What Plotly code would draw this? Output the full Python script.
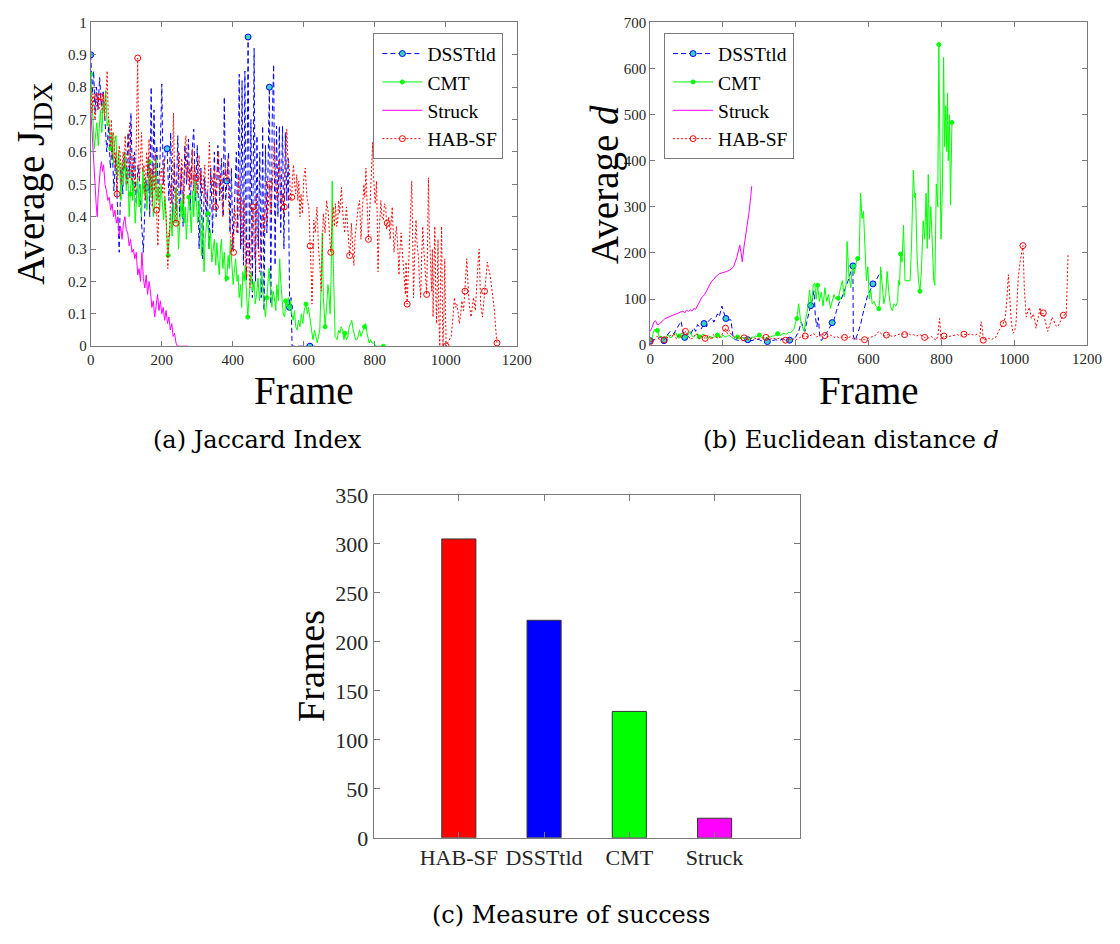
import plotly.graph_objects as go

W, H = 1120, 944
SERIF = "Liberation Serif"
CAP = "DejaVu Serif"
AX = "#7a7a7a"
TXT = "#262626"

# ---------------- (a) Jaccard index : (frame, value) ----------------
DSST_A = [(0,0.90),(4,0.78),(8,0.85),(12,0.72),(16,0.80),(20,0.73),(25,0.83),(30,0.74),(35,0.79),(40,0.70),
          (45,0.60),(50,0.68),(55,0.55),(60,0.62),(65,0.48),(70,0.58),(75,0.45),(80,0.29),(85,0.55),(90,0.47),
          (95,0.60),(100,0.50),(105,0.66),(110,0.52),(113,0.72),(118,0.48),(123,0.60),(128,0.44),(133,0.56),
          (138,0.50),(143,0.38),(148,0.29),(153,0.45),(157,0.49),(162,0.58),(166,0.40),(170,0.80),(174,0.45),
          (178,0.73),(182,0.52),(186,0.62),(190,0.46),(195,0.58),(200,0.81),(204,0.50),(210,0.61),(215,0.61),
          (220,0.45),(225,0.66),(230,0.38),(235,0.57),(240,0.42),(245,0.65),(250,0.40),(255,0.55),(260,0.37),
          (265,0.62),(270,0.50),(275,0.64),(280,0.42),(285,0.60),(290,0.67),(295,0.45),(300,0.62),(305,0.30),
          (310,0.55),(315,0.27),(320,0.52),(325,0.40),(328,0.48),(333,0.30),(338,0.55),(343,0.35),(348,0.60),
          (353,0.40),(358,0.62),(363,0.45),(368,0.58),(373,0.40),(376,0.77),(380,0.45),(383,0.51),(388,0.60),
          (392,0.35),(396,0.55),(400,0.30),(405,0.45),(410,0.60),(414,0.35),(418,0.84),(422,0.30),(426,0.82),
          (430,0.25),(434,0.85),(438,0.20),(443,0.955),(447,0.25),(451,0.70),(455,0.15),(460,0.92),(464,0.20),
          (468,0.65),(472,0.30),(476,0.60),(480,0.15),(484,0.68),(488,0.11),(492,0.62),(496,0.35),(503,0.80),
          (507,0.13),(511,0.70),(515,0.87),(519,0.25),(523,0.68),(527,0.40),(531,0.68),(535,0.35),(540,0.68),
          (544,0.30),(548,0.66),(552,0.45),(556,0.58),(560,0.12),(564,0.15),(567,0.00),(600,0.00),(617,0.00),
          (632,0.00)]
DSST_A_MARKS = [0, 157, 215, 383, 443, 503, 560, 617]

CMT_A = [(0,0.84),(5,0.70),(10,0.61),(14,0.66),(17,0.69),(21,0.62),(24,0.70),(27,0.73),(31,0.66),(35,0.75),
         (38,0.72),(42,0.79),(46,0.68),(51,0.70),(56,0.61),(60,0.66),(64,0.56),(67,0.63),(71,0.65),(75,0.52),
         (78,0.60),(81,0.56),(85,0.45),(88,0.57),(92,0.50),(96,0.60),(100,0.48),(104,0.55),(108,0.40),(111,0.47),
         (115,0.55),(118,0.45),(121,0.51),(125,0.38),(129,0.47),(132,0.52),(136,0.43),(140,0.50),(143,0.40),
         (147,0.55),(150,0.47),(154,0.52),(158,0.42),(162,0.50),(165,0.57),(169,0.46),(173,0.53),(176,0.40),
         (180,0.43),(184,0.58),(187,0.45),(190,0.49),(194,0.42),(198,0.50),(201,0.44),(205,0.39),(209,0.46),
         (212,0.36),(215,0.33),(218,0.28),(222,0.38),(225,0.41),(229,0.34),(233,0.44),(236,0.38),(240,0.49),
         (244,0.42),(247,0.30),(250,0.37),(254,0.45),(257,0.40),(259,0.47),(263,0.38),(266,0.43),(269,0.33),
         (273,0.40),(276,0.46),(279,0.43),(283,0.35),(287,0.48),(290,0.40),(294,0.51),(297,0.44),(301,0.38),
         (305,0.45),(309,0.35),(312,0.28),(315,0.40),(319,0.23),(322,0.33),(326,0.37),(329,0.41),(333,0.30),
         (337,0.36),(341,0.26),(345,0.31),(348,0.33),(352,0.25),(355,0.32),(358,0.27),(362,0.22),(365,0.30),
         (368,0.33),(372,0.24),(376,0.29),(380,0.20),(383,0.21),(387,0.28),(390,0.24),(393,0.33),(397,0.25),
         (401,0.19),(405,0.24),(408,0.27),(412,0.20),(415,0.22),(418,0.15),(422,0.19),(425,0.12),(428,0.23),
         (432,0.20),(435,0.25),(438,0.18),(442,0.09),(445,0.14),(449,0.20),(452,0.23),(456,0.17),(460,0.20),
         (463,0.13),(467,0.16),(471,0.21),(475,0.14),(478,0.18),(482,0.23),(485,0.16),(489,0.12),(492,0.09),
         (496,0.15),(499,0.19),(502,0.24),(506,0.18),(510,0.12),(513,0.17),(517,0.15),(521,0.11),(524,0.19),
         (528,0.14),(532,0.27),(535,0.20),(539,0.13),(542,0.10),(546,0.09),(549,0.14),(553,0.12),(556,0.15),
         (560,0.11),(563,0.14),(566,0.10),(570,0.08),(574,0.11),(577,0.06),(581,0.05),(585,0.08),(589,0.06),
         (593,0.10),(597,0.07),(601,0.11),(606,0.13),(610,0.10),(613,0.12),(616,0.09),(620,0.06),(623,0.04),
         (626,0.02),(630,0.05),(634,0.03),(638,0.01),(641,0.03),(645,0.05),(649,0.20),(652,0.35),(655,0.15),
         (658,0.08),(660,0.06),(664,0.12),(668,0.19),(671,0.16),(674,0.10),(677,0.22),(680,0.51),(682,0.30),
         (685,0.15),(688,0.03),(694,0.02),(698,0.05),(702,0.04),(705,0.06),(709,0.05),(713,0.02),(716,0.04),
         (720,0.02),(724,0.03),(728,0.06),(732,0.07),(735,0.08),(739,0.05),(743,0.03),(746,0.02),(749,0.02),
         (753,0.03),(757,0.05),(761,0.03),(764,0.04),(768,0.05),(771,0.06),(774,0.07),(778,0.04),(781,0.02),
         (784,0.01),(788,0.02),(792,0.01),(797,0.01),(804,0.0),(812,0.0),(824,0.0)]
CMT_A_MARKS = [0, 55, 110, 165, 220, 275, 330, 385, 442, 495, 549, 606, 660, 716, 771, 824]

STRUCK_A = [(0,0.73),(3,0.68),(6,0.62),(9,0.56),(12,0.50),(15,0.44),(18,0.40),(21,0.47),(24,0.52),(27,0.55),
            (30,0.57),(33,0.54),(36,0.56),(40,0.50),(44,0.48),(48,0.45),(52,0.46),(56,0.42),(60,0.44),(64,0.40),
            (68,0.42),(72,0.38),(76,0.40),(80,0.34),(84,0.37),(88,0.33),(92,0.38),(96,0.40),(100,0.36),(104,0.35),
            (108,0.31),(112,0.33),(116,0.29),(120,0.30),(124,0.27),(128,0.29),(132,0.22),(136,0.24),(140,0.20),
            (144,0.29),(148,0.21),(152,0.18),(156,0.22),(160,0.16),(164,0.20),(168,0.17),(172,0.12),(176,0.14),
            (180,0.09),(184,0.13),(188,0.16),(192,0.11),(196,0.14),(200,0.10),(204,0.12),(208,0.08),(212,0.11),
            (216,0.07),(220,0.09),(224,0.05),(228,0.07),(232,0.03),(236,0.04),(240,0.01),(244,0.0),(260,0.0),
            (275,0.0)]

HAB_A = [(0,0.80),(3,0.72),(6,0.78),(9,0.75),(12,0.70),(15,0.74),(19,0.77),(23,0.73),(28,0.77),(32,0.72),
         (36,0.78),(39,0.70),(42,0.76),(46,0.85),(49,0.72),(51,0.68),(55,0.62),(58,0.70),(60,0.58),(63,0.66),
         (65,0.65),(68,0.55),(71,0.60),(74,0.47),(77,0.55),(80,0.62),(83,0.59),(86,0.50),(88,0.52),(91,0.60),
         (94,0.55),(97,0.65),(100,0.58),(103,0.50),(106,0.53),(109,0.69),(112,0.58),(116,0.51),(120,0.59),
         (124,0.48),(128,0.62),(132,0.89),(135,0.60),(137,0.51),(140,0.58),(143,0.66),(146,0.54),(150,0.56),
         (153,0.45),(157,0.60),(161,0.52),(164,0.64),(166,0.49),(170,0.55),(173,0.43),(176,0.56),(179,0.48),
         (182,0.60),(185,0.42),(187,0.36),(189,0.31),(192,0.45),(195,0.52),(199,0.55),(203,0.47),(206,0.58),
         (209,0.44),(212,0.41),(215,0.30),(217,0.24),(220,0.35),(222,0.34),(225,0.50),(228,0.44),(230,0.58),
         (233,0.72),(236,0.50),(240,0.38),(243,0.45),(246,0.52),(249,0.60),(253,0.48),(256,0.58),(259,0.54),
         (262,0.44),(265,0.62),(268,0.65),(271,0.52),(274,0.57),(277,0.48),(280,0.55),(283,0.50),(286,0.61),
         (289,0.48),(292,0.56),(296,0.52),(300,0.47),(303,0.55),(305,0.59),(308,0.50),(311,0.54),(314,0.47),
         (318,0.52),(321,0.56),(324,0.45),(328,0.44),(331,0.52),(334,0.63),(338,0.50),(342,0.52),(345,0.46),
         (348,0.55),(351,0.43),(354,0.50),(357,0.58),(360,0.60),(363,0.48),(366,0.53),(369,0.47),(372,0.40),
         (375,0.52),(379,0.55),(383,0.51),(386,0.58),(388,0.45),(390,0.41),(393,0.36),(397,0.29),(400,0.35),
         (402,0.29),(405,0.43),(408,0.38),(411,0.35),(414,0.47),(417,0.53),(420,0.40),(423,0.46),(425,0.31),
         (428,0.38),(432,0.45),(435,0.28),(437,0.25),(439,0.21),(441,0.30),(443,0.33),(446,0.24),(448,0.18),
         (451,0.30),(454,0.38),(457,0.43),(460,0.32),(462,0.27),(464,0.40),(466,0.47),(469,0.35),(472,0.28),
         (475,0.23),(478,0.33),(481,0.38),(485,0.41),(488,0.35),(491,0.43),(494,0.47),(497,0.38),(500,0.45),
         (503,0.50),(506,0.44),(508,0.41),(511,0.50),(514,0.55),(517,0.63),(520,0.52),(523,0.48),(525,0.45),
         (528,0.52),(531,0.58),(534,0.50),(537,0.44),(540,0.47),(543,0.40),(545,0.43),(548,0.55),(552,0.67),
         (555,0.58),(559,0.55),(563,0.45),(566,0.46),(568,0.52),(571,0.56),(574,0.50),(577,0.47),(580,0.53),
         (583,0.45),(586,0.51),(589,0.40),(592,0.47),(596,0.41),(600,0.52),(604,0.55),(607,0.49),(610,0.45),
         (614,0.43),(616,0.39),(618,0.31),(621,0.22),(623,0.13),(626,0.25),(628,0.39),(632,0.35),(635,0.43),
         (637,0.43),(639,0.38),(641,0.31),(645,0.25),(649,0.17),(652,0.30),(655,0.41),(658,0.37),(660,0.35),
         (664,0.45),(669,0.41),(672,0.35),(676,0.29),(680,0.38),(683,0.43),(686,0.37),(689,0.44),(692,0.37),
         (695,0.38),(698,0.45),(701,0.41),(704,0.46),(706,0.49),(709,0.42),(712,0.38),(715,0.35),(718,0.40),
         (720,0.43),(724,0.36),(729,0.28),(732,0.32),(734,0.38),(738,0.30),(741,0.25),(744,0.33),(748,0.39),
         (752,0.42),(757,0.45),(759,0.38),(761,0.33),(765,0.42),(769,0.50),(772,0.46),(775,0.55),(778,0.45),
         (782,0.33),(785,0.40),(787,0.45),(790,0.55),(794,0.63),(796,0.53),(798,0.47),(801,0.44),(805,0.51),
         (807,0.35),(809,0.23),(812,0.35),(817,0.45),(820,0.40),(824,0.39),(827,0.44),(831,0.43),(833,0.36),
         (835,0.38),(839,0.40),(843,0.33),(846,0.38),(849,0.43),(852,0.35),(854,0.29),(858,0.34),(861,0.37),
         (865,0.30),(868,0.22),(871,0.30),(874,0.35),(877,0.30),(880,0.25),(883,0.20),(886,0.16),(888,0.26),
         (891,0.13),(894,0.22),(898,0.33),(901,0.42),(904,0.51),(907,0.30),(909,0.15),(912,0.28),(916,0.39),
         (919,0.32),(923,0.27),(926,0.20),(929,0.15),(932,0.28),(935,0.37),(938,0.30),(941,0.25),(944,0.20),
         (946,0.16),(949,0.35),(951,0.52),(953,0.38),(955,0.28),(958,0.22),(960,0.17),(962,0.30),(964,0.09),
         (967,0.25),(969,0.37),(971,0.20),(974,0.07),(976,0.20),(978,0.33),(980,0.10),(983,0.0),(985,0.20),
         (988,0.37),(990,0.15),(992,0.0),(995,0.12),(997,0.27),(999,0.10),(1001,0.0),(1005,0.01),(1009,0.02),
         (1015,0.03),(1020,0.09),(1024,0.15),(1028,0.12),(1031,0.13),(1035,0.10),(1038,0.07),(1042,0.10),
         (1045,0.14),(1050,0.11),(1054,0.17),(1057,0.22),(1059,0.27),(1062,0.20),(1066,0.13),(1071,0.09),
         (1075,0.12),(1078,0.15),(1083,0.11),(1086,0.18),(1089,0.25),(1092,0.28),(1094,0.30),(1096,0.20),
         (1098,0.13),(1103,0.09),(1106,0.13),(1109,0.17),(1113,0.22),(1117,0.26),(1120,0.24),(1123,0.23),
         (1127,0.20),(1131,0.17),(1134,0.14),(1137,0.11),(1140,0.06),(1144,0.01)]
HAB_A_MARKS = [19, 28, 74, 132, 185, 240, 296, 351, 402, 457, 503, 545, 566, 618, 676, 729, 782, 835,
               891, 946, 1001, 1054, 1109, 1144]

# ---------------- (b) Euclidean distance : (frame, value) ----------------
DSST_B = [(0,10),(10,12),(20,14),(30,20),(38,10),(45,20),(55,30),(65,25),(75,40),(85,52),(90,30),(95,17),
          (100,15),(110,22),(120,38),(125,30),(130,45),(140,35),(148,47),(155,40),(160,52),(170,60),(175,50),
          (185,68),(190,62),(197,85),(202,72),(208,58),(215,55),(222,55),(228,15),(235,12),(245,10),(255,10),
          (268,12),(280,10),(290,14),(300,12),(310,8),(322,8),(335,10),(345,12),(355,10),(365,14),(375,11),
          (383,11),(392,14),(400,18),(408,30),(415,50),(420,40),(425,30),(430,50),(435,70),(441,86),(446,100),
          (450,118),(454,60),(458,40),(462,60),(466,20),(470,10),(475,15),(480,20),(487,30),(494,40),(500,49),
          (505,55),(512,75),(518,90),(525,100),(532,115),(540,130),(546,145),(551,160),(557,172),(558,20),
          (563,10),(570,25),(578,45),(585,70),(592,95),(598,110),(605,120),(612,133),(620,140),(628,152),
          (636,160)]
DSST_B_MARKS = [0, 38, 95, 148, 208, 268, 322, 383, 441, 500, 557, 612]

CMT_B = [(0,15),(4,12),(8,25),(12,35),(16,30),(20,32),(25,18),(30,20),(35,14),(40,15),(45,20),(50,22),
         (55,16),(60,18),(65,24),(70,28),(75,18),(80,20),(85,26),(90,25),(95,18),(100,15),(105,24),(110,30),
         (115,20),(120,18),(125,22),(130,25),(135,18),(140,20),(145,24),(150,22),(155,15),(160,17),(165,20),
         (170,15),(175,18),(180,18),(185,22),(190,20),(195,16),(200,22),(205,18),(210,18),(215,22),(220,20),
         (225,16),(230,15),(235,19),(240,18),(245,14),(250,15),(255,17),(260,14),(265,16),(270,16),(275,13),
         (280,18),(285,17),(290,20),(295,18),(300,22),(305,17),(310,18),(315,15),(320,16),(325,19),(330,18),
         (335,20),(340,20),(345,22),(350,25),(355,22),(360,22),(365,26),(370,25),(375,24),(380,28),(385,27),
         (390,30),(395,35),(398,45),(403,58),(408,90),(411,70),(413,55),(418,40),(423,30),(428,60),(433,80),
         (438,120),(443,85),(448,130),(452,135),(456,100),(460,130),(465,95),(470,115),(475,85),(480,125),
         (485,95),(490,110),(495,80),(500,95),(505,110),(510,100),(517,102),(523,125),(528,140),(533,105),
         (538,130),(541,225),(546,150),(551,125),(556,175),(561,155),(566,180),(570,188),(574,185),(578,330),
         (582,275),(586,290),(590,200),(594,140),(598,170),(602,100),(606,120),(610,90),(615,95),(620,85),
         (628,79),(631,100),(633,170),(637,135),(642,90),(647,110),(651,160),(655,120),(660,85),(665,75),
         (670,90),(675,85),(680,95),(682,140),(685,130),(688,198),(692,180),(696,260),(700,140),(705,140),
         (710,140),(714,140),(718,220),(721,300),(723,380),(726,320),(729,330),(733,200),(737,140),(741,117),
         (745,160),(750,270),(754,230),(758,330),(761,210),(764,370),(767,230),(771,300),(775,200),(779,140),
         (782,130),(786,350),(790,300),(793,652),(796,420),(799,230),(803,350),(806,624),(809,430),(812,520),
         (815,420),(817,547),(819,400),(822,500),(825,304),(829,483)]
CMT_B_MARKS = [20, 80, 135, 185, 240, 300, 350, 403, 460, 517, 570, 628, 688, 741, 793, 829]

STRUCK_B = [(0,30),(5,38),(10,50),(15,53),(20,44),(25,46),(30,50),(40,57),(50,61),(60,64),(70,68),(80,71),
            (85,72),(90,74),(95,70),(100,76),(105,73),(110,77),(115,74),(120,80),(125,78),(130,86),(135,92),
            (142,104),(150,110),(155,118),(161,130),(168,138),(175,143),(182,150),(190,155),(200,157),(210,160),
            (219,163),(229,170),(238,190),(243,210),(246,217),(250,200),(253,181),(258,215),(262,235),(267,265),
            (272,290),(276,320),(279,345)]

HAB_B = [(0,8),(10,10),(20,20),(25,12),(30,18),(39,12),(45,15),(55,22),(60,18),(66,26),(72,14),(80,22),
         (88,16),(97,30),(105,20),(112,12),(120,19),(128,25),(135,14),(143,20),(151,15),(160,22),(168,12),
         (174,23),(180,18),(188,15),(195,20),(200,28),(207,37),(212,25),(218,32),(223,23),(230,20),(238,15),
         (245,18),(252,14),(258,16),(264,15),(272,12),(280,16),(291,15),(300,14),(310,16),(318,17),(328,13),
         (338,15),(348,14),(358,16),(366,12),(372,11),(380,14),(390,12),(398,15),(403,12),(410,16),(418,20),
         (426,20),(434,18),(442,22),(450,25),(457,18),(465,22),(472,24),(480,21),(488,18),(496,22),(505,17),
         (512,19),(520,16),(527,18),(534,17),(542,16),(550,18),(556,15),(562,12),(570,14),(578,12),(589,12),
         (598,15),(610,19),(620,22),(628,30),(635,25),(642,20),(649,22),(655,23),(662,20),(669,19),(676,22),
         (682,23),(690,25),(699,23),(709,26),(716,22),(723,23),(732,20),(741,23),(748,20),(754,17),(762,15),
         (772,19),(780,14),(786,11),(790,20),(795,58),(799,12),(807,20),(815,18),(822,19),(833,22),(844,23),
         (853,20),(862,24),(872,22),(880,25),(885,23),(893,22),(898,24),(903,20),(906,19),(909,51),(912,40),
         (915,11),(922,13),(930,15),(937,12),(943,15),(950,18),(957,30),(963,38),(970,47),(975,60),(979,89),
         (984,153),(988,96),(992,50),(997,26),(1001,30),(1005,47),(1008,100),(1011,146),(1016,180),(1020,202),
         (1024,216),(1028,120),(1033,61),(1038,75),(1042,82),(1047,58),(1053,68),(1056,55),(1060,37),(1066,60),
         (1071,82),(1075,65),(1080,70),(1086,50),(1092,30),(1098,45),(1104,61),(1108,55),(1113,44),(1119,40),
         (1125,48),(1132,61),(1135,65),(1140,66),(1143,68),(1148,198)]
HAB_B_MARKS = [0, 39, 97, 151, 207, 258, 318, 372, 426, 480, 534, 589, 649, 699, 754, 807, 862, 915,
               970, 1024, 1080, 1135]

# ---------------- (c) Measure of success ----------------
METHODS = ["HAB-SF", "DSSTtld", "CMT", "Struck"]
SUCCESS_FRAMES = [305, 222, 129, 20]
BAR_COLORS = ["#ff0000", "#0000ff", "#00ff00", "#ff00ff"]

STYLE = {
    "DSSTtld": dict(color="#0000ff", dash="5px,3px", symbol="circle", size=6, fill="#3cd2c8", edge="#0000ff"),
    "CMT": dict(color="#00ff00", dash="solid", symbol="circle", size=4, fill="#00ff00", edge="#00ff00"),
    "Struck": dict(color="#ff00ff", dash="solid", symbol="circle", size=2, fill="#ff00ff", edge="#ff00ff"),
    "HAB-SF": dict(color="#ff0000", dash="2px,2px", symbol="circle-open", size=6, fill="#ff0000", edge="#ff0000"),
}


def px(v):
    return v / W


def py(v):
    return 1 - v / H


def pick(series, frames):
    return [min(series, key=lambda p: abs(p[0] - f)) for f in frames]


fig = go.Figure()


def add_series(name, data, marks, xa, ya, legend):
    st = STYLE[name]
    line = dict(color=st["color"], width=1, dash=st["dash"])
    marker = dict(symbol=st["symbol"], size=st["size"], color=st["fill"],
                  line=dict(color=st["edge"], width=1))
    fig.add_trace(go.Scatter(x=[p[0] for p in data], y=[p[1] for p in data], mode="lines",
                             line=line, xaxis=xa, yaxis=ya, showlegend=False, hoverinfo="skip"))
    if marks:
        pts = pick(data, marks)
        fig.add_trace(go.Scatter(x=[p[0] for p in pts], y=[p[1] for p in pts], mode="markers",
                                 marker=marker, xaxis=xa, yaxis=ya, showlegend=False, hoverinfo="skip"))
    fig.add_trace(go.Scatter(x=[None], y=[None], mode="lines+markers" if marks else "lines",
                             line=line, marker=marker, name=name, xaxis=xa, yaxis=ya,
                             legend=legend, showlegend=True))


add_series("DSSTtld", DSST_A, DSST_A_MARKS, "x", "y", "legend")
add_series("CMT", CMT_A, CMT_A_MARKS, "x", "y", "legend")
add_series("Struck", STRUCK_A, [], "x", "y", "legend")
add_series("HAB-SF", HAB_A, HAB_A_MARKS, "x", "y", "legend")

add_series("DSSTtld", DSST_B, DSST_B_MARKS, "x2", "y2", "legend2")
add_series("CMT", CMT_B, CMT_B_MARKS, "x2", "y2", "legend2")
add_series("Struck", STRUCK_B, [], "x2", "y2", "legend2")
add_series("HAB-SF", HAB_B, HAB_B_MARKS, "x2", "y2", "legend2")

fig.add_trace(go.Bar(x=[1, 2, 3, 4], y=SUCCESS_FRAMES, width=0.4,
                     marker=dict(color=BAR_COLORS, line=dict(color="#333333", width=1)),
                     xaxis="x3", yaxis="y3", showlegend=False))

common = dict(showline=True, linecolor=AX, linewidth=1, mirror="ticks", ticks="inside", ticklen=5,
              tickcolor=AX, showgrid=False, zeroline=False,
              tickfont=dict(family=SERIF, size=15, color=TXT))
common_c = dict(common, tickfont=dict(family=SERIF, size=22, color=TXT), ticklen=6)

leg = dict(yanchor="top", y=py(22), bgcolor="white", bordercolor=AX, borderwidth=1,
           font=dict(family=SERIF, size=19.5, color="black"), tracegroupgap=0, itemwidth=40,
           indentation=3)

fig.update_layout(
    width=W, height=H, margin=dict(l=0, r=0, t=0, b=0),
    paper_bgcolor="white", plot_bgcolor="white",
    xaxis=dict(common, domain=[px(88.3), px(521.7)], range=[0, 1200], dtick=200, anchor="y"),
    yaxis=dict(common, domain=[py(343.3), py(10.7)], range=[0, 1], dtick=0.1, anchor="x"),
    xaxis2=dict(common, domain=[px(657.3), px(1101.7)], range=[0, 1200], dtick=200, anchor="y2"),
    yaxis2=dict(common, domain=[py(342.3), py(10.7)], range=[0, 700], dtick=100, anchor="x2"),
    xaxis3=dict(common_c, domain=[px(376), px(809.5)], range=[0, 5], tickvals=[1, 2, 3, 4],
                ticktext=METHODS, anchor="y3"),
    yaxis3=dict(common_c, domain=[py(848.3), py(496)], range=[0, 350], dtick=50, anchor="x3"),
    legend=dict(leg, x=px(508), xanchor="right"),
    legend2=dict(leg, x=px(671.5), xanchor="left"),
    showlegend=True,
)

def ann(text, x, y, size, family=SERIF, angle=0):
    return dict(text=text, x=px(x), y=py(y), xref="paper", yref="paper", showarrow=False,
                xanchor="center", yanchor="middle", textangle=angle,
                font=dict(family=family, size=size, color="black"))

fig.update_layout(annotations=[
    ann("Average J<sub>IDX</sub>", 30, 176, 39, angle=-90),
    ann("Frame", 305, 389, 39),
    ann("Average <i>d</i>", 612, 177, 39, angle=-90),
    ann("Frame", 879.5, 389, 39),
    ann("Frames", 312, 672, 38, angle=-90),
    ann("(a) Jaccard Index", 258, 440, 24, CAP),
    ann("(b) Euclidean distance <i>d</i>", 862, 440, 24, CAP),
    ann("(c) Measure of success", 577, 928, 24, CAP),
])

fig.write_html("out.html")
